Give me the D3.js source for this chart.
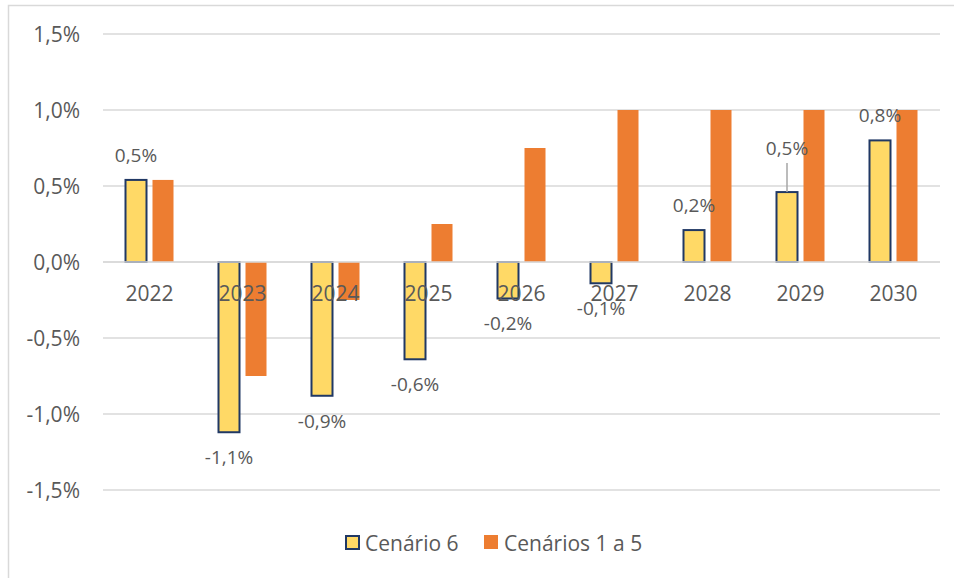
<!DOCTYPE html>
<html>
<head>
<meta charset="utf-8">
<script src="https://cdn.jsdelivr.net/npm/d3@7"></script>
<style>
  body { margin: 0; background: #fff; }
  text { font-family: "Open Sans", "Liberation Sans", sans-serif; fill: #595959; }
</style>
</head>
<body>
<svg id="chart" width="954" height="578"></svg>
<script>
// data
var years = ["2022", "2023", "2024", "2025", "2026", "2027", "2028", "2029", "2030"];
var cenario6 = [0.54, -1.12, -0.88, -0.64, -0.24, -0.14, 0.21, 0.46, 0.80];
var cenarios1a5 = [0.54, -0.75, -0.25, 0.25, 0.75, 1.0, 1.0, 1.0, 1.0];
var seriesNames = ["Cenário 6", "Cenários 1 a 5"];
var yTicks = [-1.5, -1.0, -0.5, 0, 0.5, 1.0, 1.5];

var svg = d3.select("#chart"),
    width = +svg.attr("width"),
    height = +svg.attr("height");

var fmt = function (v) { return d3.format(".1f")(v).replace("−", "-").replace(".", ",") + "%"; };

// outer frame (only top and left edges fall inside the picture)
svg.append("rect")
   .attr("x", 8.5).attr("y", 5.5)
   .attr("width", 1000).attr("height", 1000)
   .attr("fill", "#fff")
   .attr("stroke", "#d9d9d9")
   .attr("stroke-width", 1.5);

var x = d3.scaleBand().domain(years).range([103, 940]);
var bw = x.bandwidth();
var xs = d3.scaleBand().domain(seriesNames)
           .range([bw / 2 - 24, bw / 2 + 24])
           .paddingInner(0.2222);
var y = d3.scaleLinear().domain([-1.5, 1.5]).range([490, 34]);

// gridlines
svg.append("g")
   .selectAll("line")
   .data(yTicks)
   .enter().append("line")
   .attr("x1", 103).attr("x2", 940)
   .attr("y1", function (d) { return y(d); })
   .attr("y2", function (d) { return y(d); })
   .attr("stroke", "#d9d9d9")
   .attr("stroke-width", 1.5);

// y tick labels
svg.append("g")
   .selectAll("text")
   .data(yTicks)
   .enter().append("text")
   .attr("x", 80)
   .attr("y", function (d) { return y(d); })
   .attr("text-anchor", "end")
   .attr("dominant-baseline", "central")
   .style("font-size", "21px")
   .text(function (d) { return fmt(d); });

var rows = years.map(function (yr, i) {
    return { year: yr, a: cenario6[i], b: cenarios1a5[i] };
});

// orange bars
svg.append("g")
   .selectAll("rect")
   .data(rows)
   .enter().append("rect")
   .attr("x", function (d) { return x(d.year) + xs(seriesNames[1]); })
   .attr("y", function (d) { return y(Math.max(0, d.b)); })
   .attr("width", xs.bandwidth())
   .attr("height", function (d) { return Math.abs(y(d.b) - y(0)); })
   .attr("fill", "#ed7d31");

// yellow bars
svg.append("g")
   .selectAll("rect")
   .data(rows)
   .enter().append("rect")
   .attr("x", function (d) { return x(d.year) + xs(seriesNames[0]); })
   .attr("y", function (d) { return y(Math.max(0, d.a)); })
   .attr("width", xs.bandwidth())
   .attr("height", function (d) { return Math.abs(y(d.a) - y(0)); })
   .attr("fill", "#ffd966")
   .attr("stroke", "#203864")
   .attr("stroke-width", 2);

// zero line on top
svg.append("line")
   .attr("x1", 103).attr("x2", 940)
   .attr("y1", y(0)).attr("y2", y(0))
   .attr("stroke", "#d9d9d9")
   .attr("stroke-width", 1.5);

// category labels
svg.append("g")
   .selectAll("text")
   .data(years)
   .enter().append("text")
   .attr("x", function (d) { return x(d) + bw / 2; })
   .attr("y", 293)
   .attr("text-anchor", "middle")
   .attr("dominant-baseline", "central")
   .style("font-size", "21px")
   .text(function (d) { return d; });

// data labels for Cenário 6 (2029 label moved up with a leader line)
var leaderYear = "2029";
var off = 25, leaderOff = 44;
var lab = svg.append("g");
rows.forEach(function (d) {
    var cx = x(d.year) + xs(seriesNames[0]) + xs.bandwidth() / 2;
    var o = d.year === leaderYear ? leaderOff : off;
    var ly = d.a >= 0 ? y(d.a) - o : y(d.a) + o;
    if (d.year === leaderYear) {
        lab.append("line")
           .attr("x1", cx).attr("x2", cx)
           .attr("y1", ly + 15).attr("y2", y(d.a))
           .attr("stroke", "#a6a6a6")
           .attr("stroke-width", 1.5);
    }
    lab.append("text")
       .attr("x", cx)
       .attr("y", ly)
       .attr("text-anchor", "middle")
       .attr("dominant-baseline", "central")
       .style("font-size", "19px")
       .text(fmt(d.a));
});

// legend
var legend = svg.append("g");
var legX = [345, 484];
seriesNames.forEach(function (name, i) {
    var g = legend.append("g").attr("transform", "translate(" + legX[i] + ",535)");
    g.append("rect")
     .attr("x", i === 0 ? 1 : 0).attr("y", i === 0 ? 1 : 0)
     .attr("width", i === 0 ? 13 : 14).attr("height", i === 0 ? 13 : 14)
     .attr("fill", i === 0 ? "#ffd966" : "#ed7d31")
     .attr("stroke", i === 0 ? "#203864" : "none")
     .attr("stroke-width", 2);
    g.append("text")
     .attr("x", 20).attr("y", 7.5)
     .attr("dominant-baseline", "central")
     .style("font-size", "21px")
     .text(name);
});
</script>
</body>
</html>
